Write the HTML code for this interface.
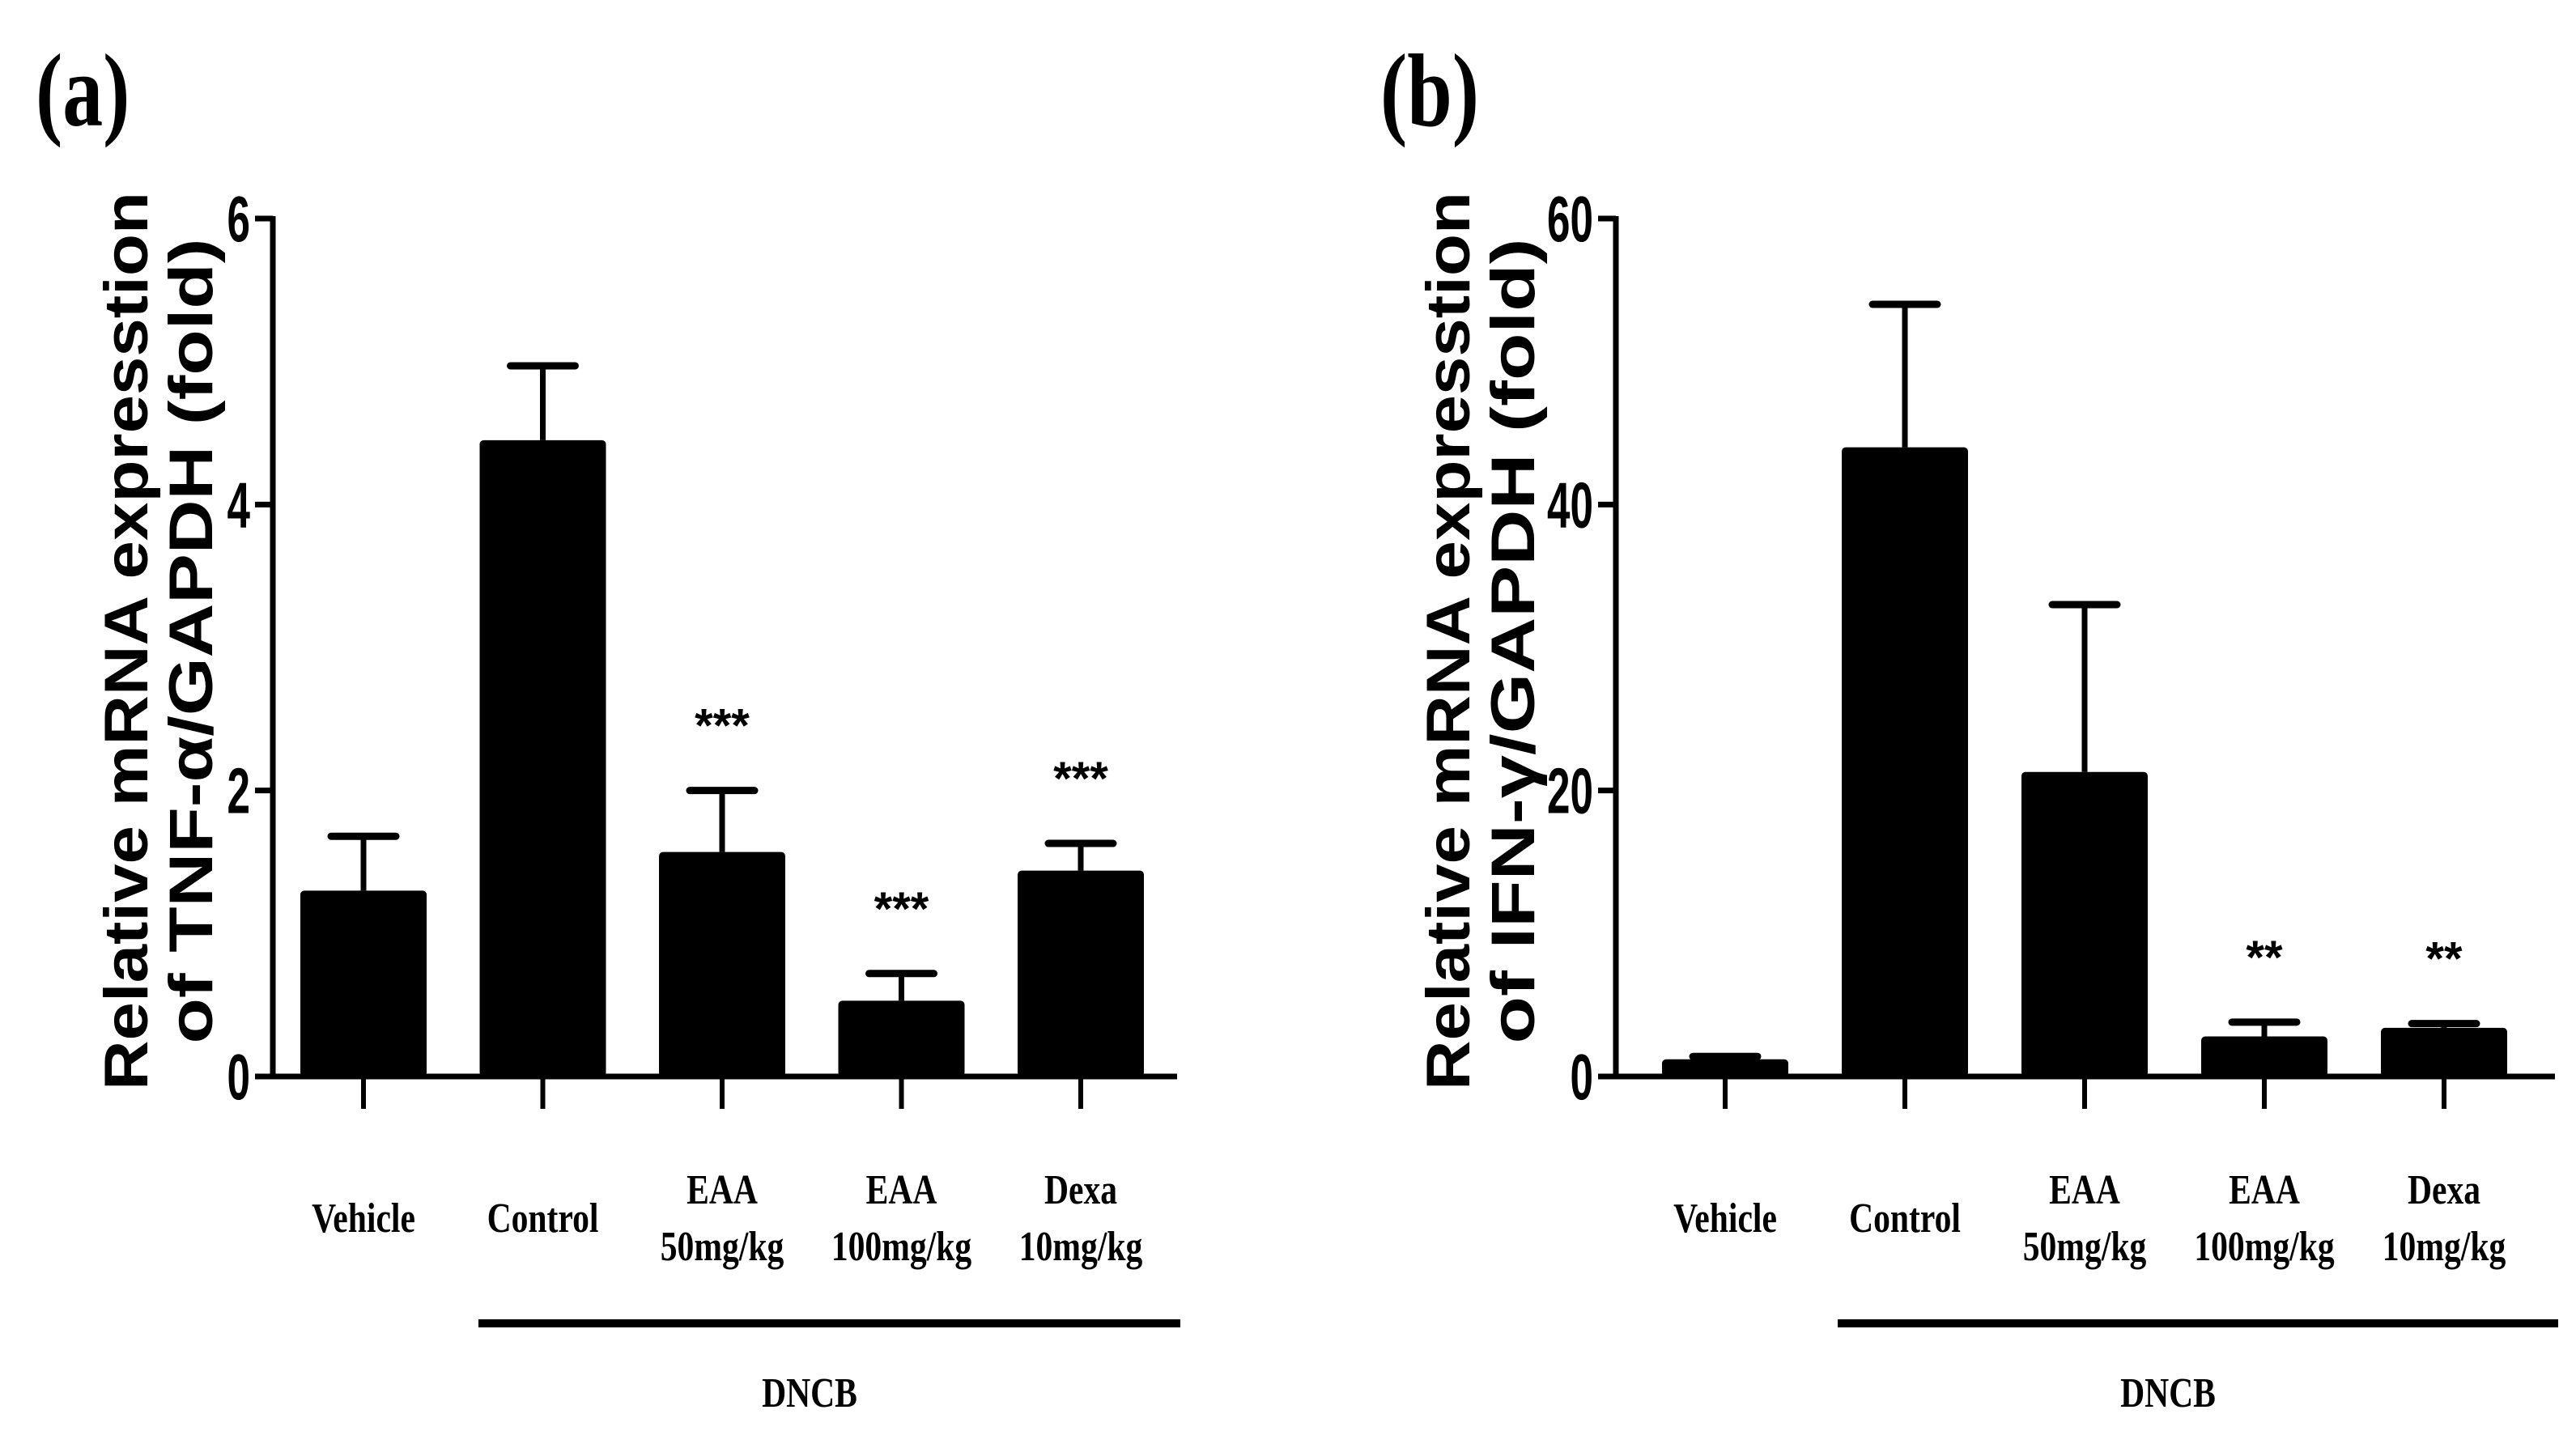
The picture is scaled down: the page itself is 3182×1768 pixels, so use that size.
<!DOCTYPE html>
<html><head><meta charset="utf-8"><style>
html,body{margin:0;padding:0;background:#fff}
svg{display:block}
.ser{font-family:"Liberation Serif",serif;font-weight:bold}
.san{font-family:"Liberation Sans",sans-serif;font-weight:bold}
</style></head><body>
<svg id="fig" width="3182" height="1768" viewBox="0 0 3182 1768" xmlns="http://www.w3.org/2000/svg"></svg>
<script>
const categories = ["Vehicle","Control","EAA|50mg/kg","EAA|100mg/kg","Dexa|10mg/kg"];
const tnfMeans = [1.3, 4.45, 1.57, 0.53, 1.44];
const tnfErrTops = [1.68, 4.97, 2.0, 0.72, 1.63];
const tnfSig = ["", "", "***", "***", "***"];
const tnfTicks = [0, 2, 4, 6];
const ifnMeans = [1.2, 44, 21.3, 2.8, 3.4];
const ifnErrTops = [1.4, 54, 33, 3.8, 3.7];
const ifnSig = ["", "", "", "**", "**"];
const ifnTicks = [0, 20, 40, 60];

const NS = "http://www.w3.org/2000/svg";
const svg = document.getElementById('fig');
function mk(tag, attrs, parent, text){
  const e = document.createElementNS(NS, tag);
  for (const k in attrs) e.setAttribute(k, attrs[k]);
  if (text !== undefined) e.textContent = text;
  (parent || svg).appendChild(e);
  return e;
}

function panel(o){
  const g = mk('g', {});
  
  
  const y0 = 1330, yTop = 270;
  const yMax = o.ticks[o.ticks.length-1];
  const yS = v => y0 - (v / yMax) * (y0 - yTop);
  const xS = i => o.c0 + i * o.step;
  const bw = 156;

  const lab = mk('text', {x:o.labelX, y:155, 'font-size':128, class:'ser', transform:`translate(${o.labelX},0) scale(0.78,1) translate(${-o.labelX},0)`}, g, o.label);
  
  

  o.means.forEach((m, i) => {
    const cx = xS(i);
    const eb = mk('line', {x1:cx, x2:cx, y1:yS(m), y2:yS(o.errs[i]), stroke:'#000', 'stroke-width':7}, g);
    
    
    const cap = mk('line', {x1:cx-40, x2:cx+40, y1:yS(o.errs[i]), y2:yS(o.errs[i]), stroke:'#000', 'stroke-width':9, 'stroke-linecap':'round'}, g);
    
    
    const r = mk('rect', {x:cx-bw/2, y:yS(m), width:bw, height:y0-yS(m), fill:'#000', rx:5}, g);
    
    
    const tk = mk('line', {x1:cx, x2:cx, y1:y0, y2:y0+40, stroke:'#000', 'stroke-width':6}, g);
    
    
    if (o.sig[i]) {
      const s = mk('text', {x:cx, y:yS(o.errs[i]) - 60, 'font-size':58, 'text-anchor':'middle', class:'san'}, g, o.sig[i]);
      
      
    }
    const parts = categories[i].split('|');
    const t = mk('text', {'font-size':52, 'text-anchor':'middle', class:'ser', transform:`translate(${cx},0) scale(0.8,1)`}, g);
    
    
    if (parts.length === 1) {
      mk('tspan', {x:0, y:1522}, t, parts[0]);
    } else {
      mk('tspan', {x:0, y:1487}, t, parts[0]);
      mk('tspan', {x:0, y:1557}, t, parts[1]);
    }
  });

  const ya = mk('line', {x1:o.ax, x2:o.ax, y1:yTop-3, y2:y0+3, stroke:'#000', 'stroke-width':7}, g);
  
  
  const xa = mk('line', {x1:o.ax, x2:o.axEnd, y1:y0, y2:y0, stroke:'#000', 'stroke-width':7}, g);
  
  
  o.ticks.forEach(v => {
    const tl = mk('line', {x1:o.ax-22, x2:o.ax, y1:yS(v), y2:yS(v), stroke:'#000', 'stroke-width':7}, g);
    
    
    const tx = o.ax - 28;
    const tt = mk('text', {x:0, y:0, 'font-size':80, 'text-anchor':'end', class:'san', transform:`translate(${tx},${yS(v)+28}) scale(0.64,1)`}, g, String(v));
    
    
  });

  const yt = mk('text', {'font-size':76, 'text-anchor':'middle', class:'san', transform:`translate(${o.titleX},792) rotate(-90)`}, g);
  
  
  mk('tspan', {x:0, y:0, textLength:1110, lengthAdjust:'spacingAndGlyphs'}, yt, 'Relative mRNA expresstion');
  mk('tspan', {x:0, y:80, textLength:995, lengthAdjust:'spacingAndGlyphs'}, yt, o.title2);

  const dl = mk('line', {x1:o.dStart, x2:o.axEnd+4, y1:1635, y2:1635, stroke:'#000', 'stroke-width':10}, g);
  
  
  const dt = mk('text', {'font-size':52, 'text-anchor':'middle', class:'ser', transform:`translate(${o.dncbX},1738) scale(0.8,1)`}, g, 'DNCB');
  
  
}

panel({name:'panel-a-tnf-alpha', label:'(a)', labelX:44, means:tnfMeans, errs:tnfErrTops, sig:tnfSig, ticks:tnfTicks,
  ax:337, axEnd:1454, c0:449, step:221.5, titleX:182, title2:'of TNF-α/GAPDH (fold)', dStart:591, dncbX:1000});
panel({name:'panel-b-ifn-gamma', label:'(b)', labelX:1705, means:ifnMeans, errs:ifnErrTops, sig:ifnSig, ticks:ifnTicks,
  ax:1996, axEnd:3156, c0:2131, step:222, titleX:1815, title2:'of IFN-γ/GAPDH (fold)', dStart:2270, dncbX:2678});
</script>
</body></html>
